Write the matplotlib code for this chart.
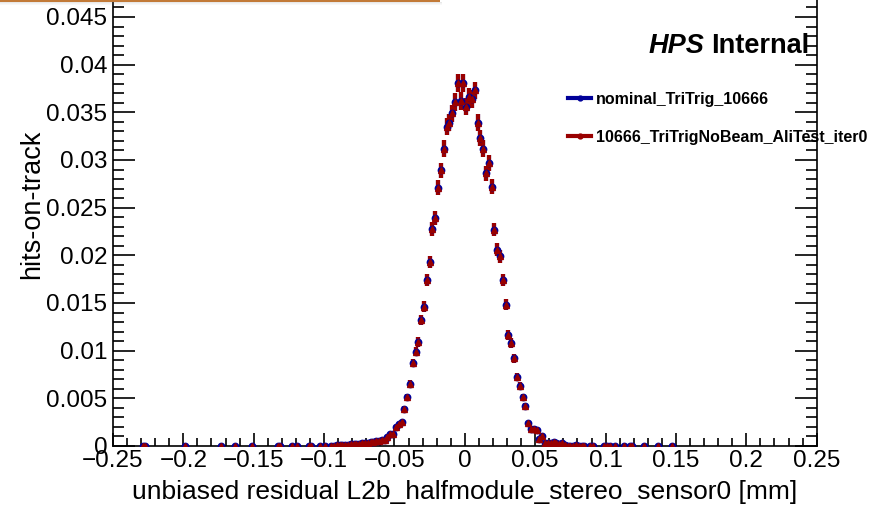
import numpy as np
import matplotlib
matplotlib.use("Agg")
import matplotlib.pyplot as plt
from matplotlib.lines import Line2D
from matplotlib.patches import Rectangle
from matplotlib.ticker import MultipleLocator, FuncFormatter

plt.rcParams["font.family"] = ["Liberation Sans", "DejaVu Sans"]

# bin centres (mm) of the non-empty bins, bin width 0.002 mm
left_tail = [-0.229, -0.227, -0.199, -0.173, -0.163, -0.151, -0.133, -0.131,
             -0.123, -0.119, -0.111, -0.109, -0.103, -0.099, -0.095, -0.093]
left_tail_vals = [0.00002] * 16

core_centers = [
    -0.091, -0.089, -0.087, -0.085, -0.083, -0.081, -0.079, -0.077, -0.075, -0.073,
    -0.071, -0.069, -0.067, -0.065, -0.063, -0.061, -0.059, -0.057, -0.055, -0.053,
    -0.051, -0.049, -0.047, -0.045, -0.043, -0.041, -0.039, -0.037, -0.035, -0.033,
    -0.031, -0.029, -0.027, -0.025, -0.023, -0.021, -0.019, -0.017, -0.015, -0.013,
    -0.011, -0.009, -0.007, -0.005, -0.003, -0.001,
    0.001, 0.003, 0.005, 0.007, 0.009, 0.011, 0.013, 0.015, 0.017, 0.019,
    0.021, 0.023, 0.025, 0.027, 0.029, 0.031, 0.033, 0.035, 0.037, 0.039,
    0.041, 0.043, 0.045, 0.047, 0.049, 0.051, 0.053, 0.055, 0.057, 0.059,
    0.061, 0.063, 0.065, 0.067, 0.069, 0.071, 0.073, 0.075, 0.077, 0.079,
    0.081, 0.083, 0.085, 0.089, 0.091,
]
core_vals = [
    0.00008, 0.00007, 0.0001, 0.00012, 0.00014, 0.00016, 0.0002, 0.00021, 0.00024, 0.00028,
    0.00031, 0.00035, 0.00037, 0.00042, 0.00049, 0.00054, 0.0006, 0.00064, 0.0009, 0.00125,
    0.0013, 0.002, 0.0023, 0.0025, 0.0039, 0.0051, 0.0065, 0.0087, 0.0099, 0.0109,
    0.0132, 0.0146, 0.0174, 0.0193, 0.0228, 0.0239, 0.0271, 0.0289, 0.0312, 0.0335,
    0.0339, 0.0349, 0.0361, 0.0381, 0.0362, 0.0381,
    0.0356, 0.0366, 0.0364, 0.0373, 0.0339, 0.0323, 0.0312, 0.0286, 0.0297, 0.0272,
    0.0227, 0.0206, 0.0199, 0.0174, 0.0148, 0.0116, 0.0108, 0.0092, 0.0072, 0.0063,
    0.0051, 0.0042, 0.0024, 0.00175, 0.00175, 0.0017, 0.0007, 0.001, 0.00035, 0.00028,
    0.00028, 0.00045, 0.00028, 0.0002, 0.00035, 0.0001, 0.00005, 0.00004, 0.00004, 0.00006,
    0.00004, 0.00004, 0.00002, 0.00002, 0.00002,
]

right_tail = [0.099, 0.101, 0.103, 0.107, 0.113, 0.117, 0.119, 0.127, 0.137, 0.147]
right_tail_vals = [0.00002] * 10

# weight of a single hit after normalisation (sets the Poisson error bars)
hit_weight = 2.3e-5

labels = ["nominal_TriTrig_10666", "10666_TriTrigNoBeam_AliTest_iter0"]
colors = ["#000099", "#990000"]

x = np.array(left_tail + core_centers + right_tail)
nominal = np.array(left_tail_vals + core_vals + right_tail_vals)
aligned = nominal.copy()


def tick_fmt(value, _pos):
    text = f"{value:g}"
    if abs(value) < 1e-12:
        text = "0"
    return text.replace("-", "\u2212")


fig = plt.figure(figsize=(8.86, 5.09), dpi=100)
ax = fig.add_axes([0.1275, 0.1238, 0.7943, 0.9028])

for vals, color, marker, size in [(nominal, colors[0], "o", 4.6), (aligned, colors[1], "^", 4.2)]:
    err = np.sqrt(vals * hit_weight)
    ax.errorbar(x, vals, yerr=err, fmt=marker, color=color, ms=size, mec=color,
                elinewidth=3, capsize=0, zorder=3)

ax.set_xlim(-0.25, 0.25)
ax.set_ylim(0, 0.0482)
ax.xaxis.set_major_locator(MultipleLocator(0.05))
ax.xaxis.set_minor_locator(MultipleLocator(0.01))
ax.yaxis.set_major_locator(MultipleLocator(0.005))
ax.yaxis.set_minor_locator(MultipleLocator(0.001))
ax.xaxis.set_major_formatter(FuncFormatter(tick_fmt))
ax.yaxis.set_major_formatter(FuncFormatter(tick_fmt))
ax.tick_params(which="both", direction="in", top=True, right=True, labelsize=17.5, width=1.2)
ax.tick_params(axis="y", which="major", length=16, pad=4)
ax.tick_params(axis="y", which="minor", length=8)
ax.tick_params(axis="x", which="major", length=9.5, pad=3)
ax.tick_params(axis="x", which="minor", length=5.5)
for spine in ax.spines.values():
    spine.set_linewidth(1.2)

ax.set_xlabel("unbiased residual L2b_halfmodule_stereo_sensor0 [mm]", fontsize=19, labelpad=6)
ax.set_ylabel("hits-on-track", fontsize=19.5)
ax.yaxis.set_label_coords(-0.097, 0.527)

# "HPS Internal" tag, HPS in bold italic
internal = fig.text(809 / 886, 1 - 53 / 509, "Internal", fontsize=19.5, fontweight="bold",
                    ha="right", va="baseline")
ax.annotate("HPS", xy=(0, 0), xycoords=internal, xytext=(-4.5, 0), textcoords="offset points",
            fontsize=19.5, fontweight="bold", fontstyle="italic", ha="right", va="bottom")

handles = [Line2D([], [], color=c, lw=3, marker="o", ms=3.5) for c in colors]
fig.legend(handles, labels, loc="upper left", bbox_to_anchor=(0.625, 0.848), frameon=False,
           prop={"weight": "bold", "size": 11.5}, handlelength=1.45, handletextpad=0.3,
           labelspacing=1.46)

# window edge from the screenshot
fig.add_artist(Rectangle((0, 1 - 2 / 509), 440 / 886, 2 / 509, transform=fig.transFigure,
                         color="#c27a38", lw=0))
for i, a in enumerate([0.18, 0.10, 0.05]):
    fig.add_artist(Rectangle((0, 1 - (3 + i) / 509), 442 / 886, 1 / 509,
                             transform=fig.transFigure, color="gray", alpha=a, lw=0))

fig.savefig("out.png", dpi=100)
